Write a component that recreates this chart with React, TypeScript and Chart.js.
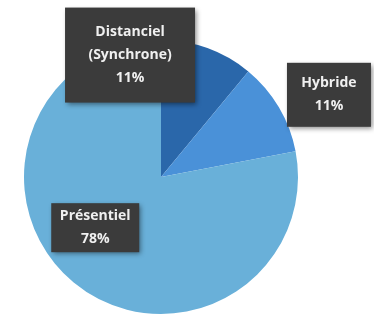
import React, { useEffect, useRef } from "react";
import { Chart, registerables } from "chart.js";

Chart.register(...registerables);

const categories = ["Distanciel (Synchrone)", "Hybride", "Présentiel"];
const labelLines = [["Distanciel", "(Synchrone)", "11%"], ["Hybride", "11%"], ["Présentiel", "78%"]];
const values = [11, 11, 78];
const colors = ["#2a67aa", "#4a91d8", "#69b0d9"];
// label box centre relative to pie centre, as a fraction of radius
const labelOffsets = [[-0.226, -0.89], [1.226, -0.6], [-0.48, 0.37]];
const boxSizes = [[130, 95], [84, 64], [88, 49]];

const labelPlugin = {
  id: "boxLabels",
  afterDatasetsDraw(chart: any) {
    const ctx = chart.ctx;
    const meta = chart.getDatasetMeta(0);
    const arc0 = meta.data[0];
    const cx = arc0.x, cy = arc0.y, r = arc0.outerRadius;
    ctx.save();
    labelLines.forEach((lines, i) => {
      const bx = cx + labelOffsets[i][0] * r;
      const by = cy + labelOffsets[i][1] * r;
      const [w, h] = boxSizes[i];
      ctx.shadowColor = "rgba(0,0,0,0.45)";
      ctx.shadowBlur = 5;
      ctx.shadowOffsetX = 2;
      ctx.shadowOffsetY = 2;
      ctx.fillStyle = "#3b3b3b";
      ctx.fillRect(bx - w / 2, by - h / 2, w, h);
      ctx.shadowColor = "transparent";
      ctx.fillStyle = "#f0f0f0";
      ctx.font = "bold 14px 'Open Sans', sans-serif";
      ctx.textAlign = "center";
      ctx.textBaseline = "middle";
      const lh = 23;
      const start = by - ((lines.length - 1) * lh) / 2;
      lines.forEach((t, k) => ctx.fillText(t, bx, start + k * lh));
    });
    ctx.restore();
  },
};

export default function App() {
  const ref = useRef<HTMLCanvasElement>(null);
  useEffect(() => {
    document.body.style.margin = "0";
    const chart = new Chart(ref.current as HTMLCanvasElement, {
      type: "pie",
      data: {
        labels: categories,
        datasets: [{ data: values, backgroundColor: colors, borderWidth: 0, hoverOffset: 0 }],
      },
      options: {
        animation: false,
        responsive: false,
        layout: { padding: { left: 24, right: 76, top: 40, bottom: 8 } },
        plugins: { legend: { display: false }, tooltip: { enabled: false } },
      },
      plugins: [labelPlugin],
    });
    return () => chart.destroy();
  }, []);
  return (
    <div style={{ width: 374, height: 322, background: "#fff" }}>
      <canvas ref={ref} width={374} height={322} />
    </div>
  );
}
